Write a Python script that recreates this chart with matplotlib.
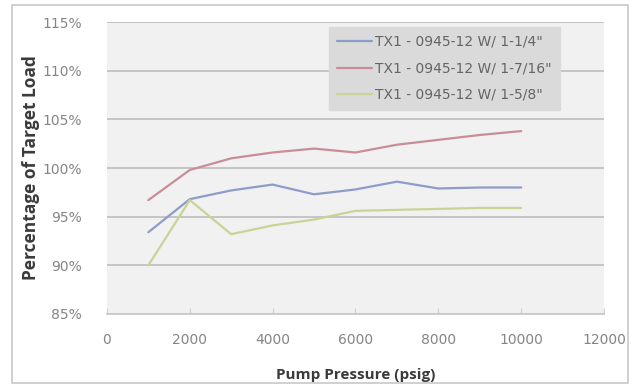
import matplotlib
matplotlib.use("Agg")
import matplotlib.pyplot as plt
from matplotlib.patches import Rectangle
from matplotlib.ticker import FuncFormatter

plt.rcParams['font.family'] = ['DejaVu Sans']

# pump pressure (psig) and load as percent of target
pressure = [1000, 2000, 3000, 4000, 5000, 6000, 7000, 8000, 9000, 10000]
load_1_1_4 = [93.4, 96.8, 97.7, 98.3, 97.3, 97.8, 98.6, 97.9, 98.0, 98.0]
load_1_7_16 = [96.7, 99.8, 101.0, 101.6, 102.0, 101.6, 102.4, 102.9, 103.4, 103.8]
load_1_5_8 = [90.0, 96.7, 93.2, 94.1, 94.7, 95.6, 95.7, 95.8, 95.9, 95.9]
series_labels = ['TX1 - 0945-12 W/ 1-1/4"', 'TX1 - 0945-12 W/ 1-7/16"', 'TX1 - 0945-12 W/ 1-5/8"']
x_ticks = [0, 2000, 4000, 6000, 8000, 10000, 12000]
y_ticks = [85, 90, 95, 100, 105, 110, 115]

colors = ['#8e9cc8', '#c98d98', '#c8d496']

fig = plt.figure(figsize=(6.44, 3.89), dpi=100)
fig.patch.set_facecolor('white')
# outer chart frame
fig.add_artist(Rectangle((12 / 644, 1 - 383 / 389), 616 / 644, 378 / 389,
                         transform=fig.transFigure, fill=False,
                         edgecolor='#c8c8c8', linewidth=1.2))

ax = fig.add_axes([0.166, 0.193, 0.772, 0.750])
ax.set_facecolor('#f1f1f1')

for ys, c, lab in zip([load_1_1_4, load_1_7_16, load_1_5_8], colors, series_labels):
    ax.plot(pressure, ys, color=c, linewidth=1.6, label=lab, solid_capstyle='round',
            solid_joinstyle='round')

ax.set_xlim(0, 12000)
ax.set_ylim(85, 115)
ax.set_xticks(x_ticks)
ax.set_yticks(y_ticks)
ax.yaxis.set_major_formatter(FuncFormatter(lambda v, p: f'{v:.0f}%'))
ax.grid(axis='y', color='#bdbdbd', linewidth=1.2)
ax.set_axisbelow(True)
for s in ['top', 'right', 'left']:
    ax.spines[s].set_visible(False)
ax.spines['bottom'].set_color('#c8c8c8')
ax.spines['bottom'].set_linewidth(1.2)
ax.tick_params(axis='y', length=0, pad=18, labelsize=10, colors='#858585')
ax.tick_params(axis='x', length=4, direction='in', color='#d0d0d0', pad=14,
               labelsize=10, labelcolor='#858585')

ax.set_xlabel('Pump Pressure (psig)', fontsize=11, fontweight='bold', color='#3a3a3a',
              labelpad=15, family='Open Sans')
ax.set_ylabel('Percentage of Target Load', fontsize=12.5, fontweight='bold', color='#3a3a3a',
              labelpad=2, family='Open Sans')

leg = ax.legend(loc='upper left', bbox_to_anchor=(0.447, 0.985), fontsize=10,
                frameon=True, fancybox=False, handlelength=2.5, borderpad=0.6,
                labelspacing=0.9, handletextpad=0.2, borderaxespad=0)
leg.get_frame().set_facecolor('#dadada')
leg.get_frame().set_edgecolor('#dadada')
leg.get_frame().set_alpha(1)
for t in leg.get_texts():
    t.set_color('#656565')

fig.savefig('out.png', dpi=100, facecolor='white')
